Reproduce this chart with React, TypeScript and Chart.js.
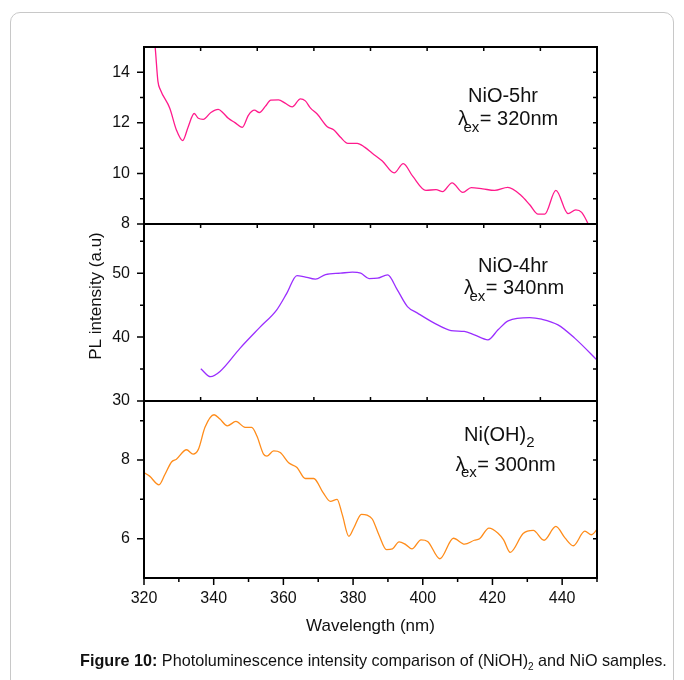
import React, { useEffect, useRef } from "react";
import { Chart, registerables } from "chart.js";

Chart.register(...registerables);

// ---------- data ----------
const nio5Wavelength = [320, 321.5, 323.2, 324.0, 324.7, 327.4, 329.3, 331.1, 332.7, 334.4, 335.6, 337.0, 339.2, 341.3, 342.8, 344.2, 346.1, 348.2, 350.0, 351.7, 353.1, 354.8, 356.4, 358.6, 360.5, 362.5, 364.9, 366.3, 367.8, 369.7, 372.6, 374.5, 376.4, 378.5, 381.2, 383.3, 385.5, 388.4, 391.8, 394.4, 397.1, 400.9, 403.8, 405.7, 408.4, 411.5, 413.9, 417.2, 420.6, 424.4, 428.3, 430.7, 433.1, 435.0, 438.2, 441.7, 443.9, 445.6, 447.8, 449.5];
const nio5Intensity = [19.0, 17.0, 15.0, 13.64, 13.31, 12.58, 11.72, 11.30, 11.85, 12.37, 12.18, 12.14, 12.41, 12.53, 12.38, 12.18, 12.01, 11.82, 12.31, 12.50, 12.41, 12.65, 12.90, 12.91, 12.78, 12.63, 12.95, 12.87, 12.58, 12.35, 11.85, 11.72, 11.43, 11.19, 11.19, 11.04, 10.80, 10.49, 10.02, 10.39, 9.89, 9.33, 9.36, 9.28, 9.63, 9.25, 9.44, 9.39, 9.33, 9.45, 9.12, 8.76, 8.39, 8.39, 9.33, 8.41, 8.56, 8.46, 7.90, 7.30];

const nio4Wavelength = [336.3, 339.1, 341.8, 347.6, 353.3, 358.1, 361.0, 363.9, 365.8, 369.2, 372.1, 376.4, 379.8, 382.2, 384.6, 387.0, 389.9, 392.7, 395.6, 398.5, 403.3, 408.1, 411.9, 414.8, 418.7, 421.6, 424.5, 430.7, 434.1, 438.8, 443.6, 450.4];
const nio4Intensity = [35.05, 33.80, 34.63, 38.28, 41.56, 44.27, 46.88, 49.63, 49.48, 49.06, 49.79, 50.0, 50.16, 50.0, 49.16, 49.22, 49.73, 47.39, 44.78, 43.75, 42.19, 41.03, 40.88, 40.36, 39.58, 41.14, 42.55, 43.06, 42.81, 41.92, 39.84, 36.19];

const nioohWavelength = [320.0, 321.6, 324.3, 326.0, 327.9, 329.3, 332.2, 334.1, 335.6, 337.5, 340.1, 341.8, 343.9, 346.4, 349.0, 350.9, 352.4, 354.3, 355.3, 357.2, 359.1, 361.5, 363.9, 366.3, 368.7, 371.4, 373.5, 375.4, 376.9, 378.8, 380.2, 382.4, 384.0, 385.5, 387.4, 389.6, 391.3, 393.2, 395.1, 396.9, 399.5, 401.4, 404.9, 408.8, 412.0, 414.8, 416.3, 419.0, 421.6, 423.2, 425.1, 428.8, 431.7, 434.8, 438.2, 440.8, 443.2, 446.5, 448.4, 450.6];
const nioohIntensity = [7.68, 7.59, 7.37, 7.63, 7.95, 8.02, 8.26, 8.15, 8.27, 8.83, 9.15, 9.04, 8.87, 8.98, 8.83, 8.83, 8.61, 8.15, 8.10, 8.23, 8.19, 7.93, 7.81, 7.53, 7.53, 7.17, 6.95, 7.00, 6.61, 6.06, 6.27, 6.62, 6.60, 6.50, 6.10, 5.72, 5.74, 5.92, 5.85, 5.74, 5.97, 5.93, 5.49, 6.01, 5.86, 5.96, 6.00, 6.27, 6.14, 5.97, 5.65, 6.13, 6.21, 5.96, 6.31, 6.02, 5.82, 6.19, 6.10, 6.31];

const xRange = [320, 450];
const xTicks = [320, 340, 360, 380, 400, 420, 440];
const xMinor = [330, 350, 370, 390, 410, 430, 450];

const topRange = [8, 15];
const topTicks = [8, 10, 12, 14];
const topMinor = [9, 11, 13];
const midRange = [30, 57.7];
const midTicks = [30, 40, 50];
const midMinor = [35, 45, 55];
const botRange = [5, 9.5];
const botTicks = [6, 8];
const botMinor = [7, 9];

const sampleNames = ["NiO-5hr", "NiO-4hr", "Ni(OH)"];
const excitations = ["= 320nm", "= 340nm", "= 300nm"];

const yTitle = "PL intensity (a.u)";
const xTitle = "Wavelength (nm)";

const FONT = "'Liberation Sans', Arial, Helvetica, sans-serif";

const zip = (xs: number[], ys: number[]) => xs.map((x, i) => ({ x, y: ys[i] }));

const framePlugin = {
  id: "frame",
  afterDatasetsDraw(chart: any) {
    const { ctx, chartArea: a, scales } = chart;
    const yT = scales.yTop, yM = scales.yMid, yB = scales.yBot, x = scales.x;
    ctx.save();
    ctx.strokeStyle = "#000";
    ctx.lineWidth = 2;
    ctx.strokeRect(a.left, a.top, a.right - a.left, a.bottom - a.top);
    ctx.beginPath();
    ctx.moveTo(a.left, yT.bottom); ctx.lineTo(a.right, yT.bottom);
    ctx.moveTo(a.left, yM.bottom); ctx.lineTo(a.right, yM.bottom);
    ctx.stroke();

    ctx.lineWidth = 1.5;
    ctx.beginPath();
    const panels: [any, number[], number[]][] = [
      [yT, topTicks, topMinor],
      [yM, midTicks, midMinor],
      [yB, botTicks, botMinor],
    ];
    for (const [s, maj, min] of panels) {
      for (const v of maj) {
        const p = s.getPixelForValue(v);
        ctx.moveTo(a.left - 7, p); ctx.lineTo(a.left, p);
        ctx.moveTo(a.right - 4, p); ctx.lineTo(a.right, p);
      }
      for (const v of min) {
        const p = s.getPixelForValue(v);
        ctx.moveTo(a.left - 4, p); ctx.lineTo(a.left, p);
        ctx.moveTo(a.right - 4, p); ctx.lineTo(a.right, p);
      }
    }
    for (const v of xTicks) {
      const p = x.getPixelForValue(v);
      ctx.moveTo(p, a.bottom); ctx.lineTo(p, a.bottom + 7);
    }
    for (const v of xMinor) {
      const p = x.getPixelForValue(v);
      ctx.moveTo(p, a.bottom); ctx.lineTo(p, a.bottom + 4);
    }
    const w = a.right - a.left;
    for (let i = 1; i < 8; i++) {
      const p = a.left + (w * i) / 8;
      ctx.moveTo(p, a.top); ctx.lineTo(p, a.top + 4);
      ctx.moveTo(p, yT.bottom); ctx.lineTo(p, yT.bottom + 4);
      ctx.moveTo(p, yM.bottom); ctx.lineTo(p, yM.bottom - 4);
    }
    ctx.stroke();

    // panel labels
    ctx.fillStyle = "#111";
    ctx.textAlign = "left";
    ctx.textBaseline = "alphabetic";
    const big = `20px ${FONT}`;
    const small = `15px ${FONT}`;
    const L = a.left;
    const lab = (s: any, i: number, nx: number, ny: number, lx: number, ly: number, sub2: boolean) => {
      ctx.font = big;
      ctx.fillText(sampleNames[i], L + nx, s.top + ny);
      if (sub2) {
        const wN = ctx.measureText(sampleNames[i]).width;
        ctx.font = small;
        ctx.fillText("2", L + nx + wN, s.top + ny + 6);
        ctx.font = big;
      }
      ctx.fillText("λ", L + lx, s.top + ly);
      ctx.font = small;
      ctx.fillText("ex", L + lx + 5.5, s.top + ly + 6.5);
      const wEx = ctx.measureText("ex").width;
      ctx.font = big;
      ctx.fillText(excitations[i], L + lx + 6 + wEx, s.top + ly);
    };
    lab(yT, 0, 324, 54.5, 314, 78, false);
    lab(yM, 1, 334, 47.5, 320, 70, false);
    lab(yB, 2, 320, 40, 311.5, 69.5, true);

    // axis titles
    ctx.font = `17px ${FONT}`;
    ctx.textAlign = "center";
    ctx.textBaseline = "middle";
    ctx.fillText(xTitle, (a.left + a.right) / 2, 626);
    ctx.save();
    ctx.translate(96, 296);
    ctx.rotate(-Math.PI / 2);
    ctx.fillText(yTitle, 0, 0);
    ctx.restore();
    ctx.restore();
  },
};

function yScale(range: number[], ticks: number[]) {
  return {
    type: "linear",
    position: "left",
    stack: "panels",
    stackWeight: 1,
    min: range[0],
    max: range[1],
    grid: { display: false, drawTicks: false },
    border: { display: false },
    afterBuildTicks: (s: any) => {
      s.ticks = ticks.map((v) => ({ value: v }));
    },
    afterFit: (s: any) => {
      s.width = 136;
    },
    ticks: {
      autoSkip: false,
      padding: 14,
      color: "#111",
      font: { size: 16, family: FONT },
    },
  };
}

export default function App() {
  const ref = useRef<HTMLCanvasElement | null>(null);
  useEffect(() => {
    if (!ref.current) return;
    const chart = new Chart(ref.current, {
      type: "line",
      data: {
        datasets: [
          { data: zip(nioohWavelength, nioohIntensity), yAxisID: "yBot", borderColor: "#ff8c1a" },
          { data: zip(nio4Wavelength, nio4Intensity), yAxisID: "yMid", borderColor: "#9a2eff" },
          { data: zip(nio5Wavelength, nio5Intensity), yAxisID: "yTop", borderColor: "#ff1a8c" },
        ].map((d) => ({
          ...d,
          xAxisID: "x",
          borderWidth: 1.3,
          pointRadius: 0,
          fill: false,
          cubicInterpolationMode: "monotone" as const,
        })),
      },
      options: {
        animation: false,
        responsive: false,
        devicePixelRatio: 1,
        layout: { padding: { left: 8, top: 47, right: 87, bottom: 0 } },
        plugins: { legend: { display: false }, tooltip: { enabled: false } },
        scales: {
          x: {
            type: "linear",
            position: "bottom",
            min: xRange[0],
            max: xRange[1],
            grid: { display: false, drawTicks: false },
            border: { display: false },
            afterBuildTicks: (s: any) => {
              s.ticks = xTicks.map((v) => ({ value: v }));
            },
            afterFit: (s: any) => {
              s.height = 102;
            },
            ticks: {
              autoSkip: false,
              maxRotation: 0,
              padding: 11,
              color: "#111",
              font: { size: 16, family: FONT },
            },
          },
          yBot: yScale(botRange, botTicks),
          yMid: yScale(midRange, midTicks),
          yTop: yScale(topRange, topTicks),
        } as any,
      },
      plugins: [framePlugin],
    } as any);
    return () => chart.destroy();
  }, []);

  return (
    <div style={{ position: "absolute", left: 0, top: 0, width: 684, height: 680, overflow: "hidden", background: "#fff" }}>
      <div
        style={{
          position: "absolute",
          left: 10,
          top: 12,
          width: 664,
          height: 700,
          border: "1px solid #c8c8c8",
          borderRadius: 10,
          boxSizing: "border-box",
        }}
      />
      <canvas ref={ref} width={684} height={680} style={{ position: "absolute", left: 0, top: 0, width: 684, height: 680 }} />
      <div
        style={{
          position: "absolute",
          left: 80,
          top: 651,
          fontFamily: FONT,
          fontSize: 16.2,
          color: "#111",
          whiteSpace: "nowrap",
        }}
      >
        <b>Figure 10:</b> Photoluminescence intensity comparison of (NiOH)
        <sub style={{ fontSize: 10 }}>2</sub> and NiO samples.
      </div>
    </div>
  );
}
